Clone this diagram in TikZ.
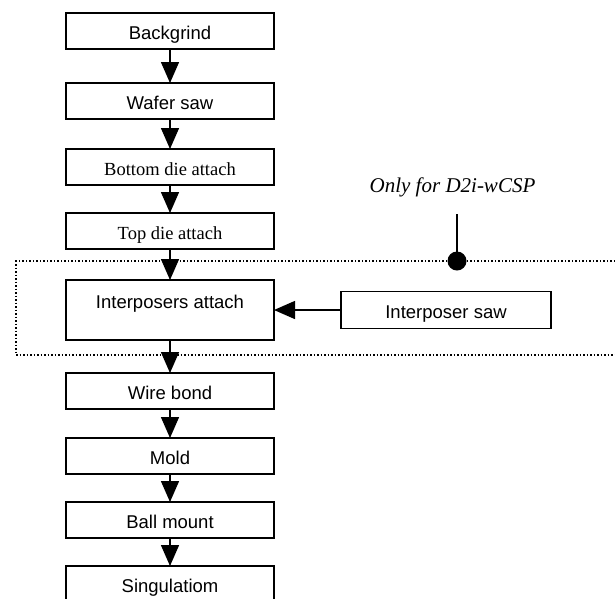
\documentclass[tikz,border=0pt]{standalone}
\usepackage{fontspec}
\setmainfont{Liberation Sans}
\newfontfamily\timesfont{Liberation Serif}
\usetikzlibrary{arrows.meta, positioning}

\begin{document}
\begin{tikzpicture}[
	x = 1pt, y = -1pt, % pixel grid, y runs downwards
	> = {Triangle[width=18pt, length=21pt]}, % arrow head style
	node distance = 30pt, % gap between boxes
	semithick % line style
	]
	
	\tikzstyle{process}=[
	draw = black,
	line width = 1.3pt,
	fill = white,
	inner sep = 0pt,
	outer sep = 0pt,
	minimum width = 208pt,
	text height = 26pt,
	text depth = 10pt,
	font = \fontsize{18.5pt}{20pt}\selectfont
	]
	\tikzstyle{serif}=[font = \timesfont\fontsize{18.5pt}{20pt}\selectfont]
	\tikzstyle{flow}=[->, line width = 1.5pt]
	\tikzstyle{note}=[font = \timesfont\itshape\fontsize{21pt}{24pt}\selectfont]
	
	\useasboundingbox (0,0) rectangle (615,598);
	
	% optional block
	\coordinate (frameNE) at (615,261);
	\coordinate (frameSW) at (16,355);
	\coordinate (frameSE) at (615,355);
	\draw[dotted, line width = 1.5pt] (frameNE) -| (frameSW) -- (frameSE);
	
	\node[process] (backgrind) at (170,31) {Backgrind};
	\node[process] (wafer) [below=34pt of backgrind] {Wafer saw};
	\node[process, serif] (bottom) [below=30pt of wafer] {Bottom die attach};
	\node[process, serif] (top) [below=28pt of bottom] {Top die attach};
	\node[process, text height=28pt, text depth=32pt] (inter) [below=31pt of top] {Interposers attach};
	\node[process, minimum width=210pt, text height=27pt] (isaw) [right=67pt of inter] {Interposer saw};
	\node[process] (wire) [below=33pt of inter] {Wire bond};
	\node[process] (mold) [below=29pt of wire] {Mold};
	\node[process] (ball) [below=28pt of mold] {Ball mount};
	\node[process] (sing) [below=28pt of ball] {Singulatiom};
	
	\draw[flow] (backgrind) -- (wafer);
	\draw[flow] (wafer) -- (bottom);
	\draw[flow] (bottom) -- (top);
	\draw[flow] (top) -- (inter);
	\draw[flow] (isaw) -- (inter);
	\draw[flow] (inter) -- (wire);
	\draw[flow] (wire) -- (mold);
	\draw[flow] (mold) -- (ball);
	\draw[flow] (ball) -- (sing);
	
	% marker for the D2i-wCSP step
	\node[note, anchor=base] (only) at (452.5,192) {Only for D2i-wCSP};
	\coordinate (mark) at (457,261);
	\coordinate (tick) at (457,214);
	\draw[line width = 1.5pt] (tick) -- (mark);
	\fill (mark) circle (9.5pt);
	
\end{tikzpicture}
\end{document}
